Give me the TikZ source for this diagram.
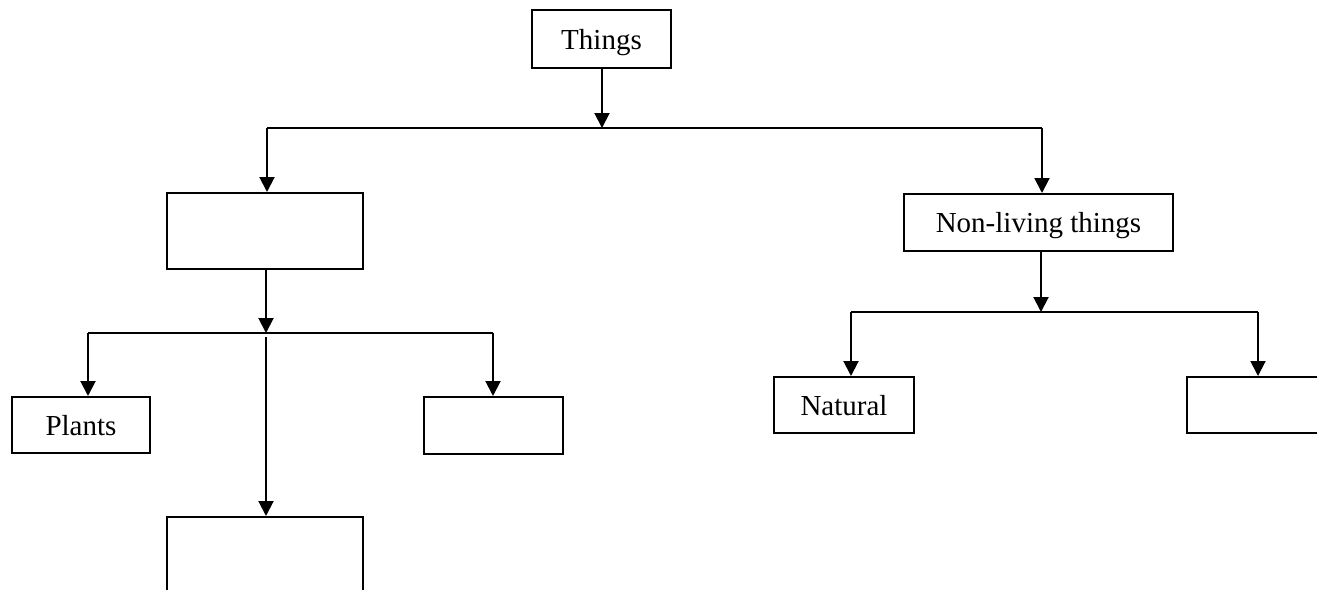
\documentclass[tikz,border=0pt]{standalone}
\usepackage{fontspec}
\setmainfont{Liberation Serif}
\usetikzlibrary{arrows.meta}
\begin{document}
\begin{tikzpicture}[x=1pt,y=-1pt,
  box/.style={draw,line width=2pt,inner sep=0pt,text height=20pt,text depth=0pt,font=\fontsize{29}{34}\selectfont},
  conn/.style={line width=2pt},
  arr/.style={line width=2pt,-{Triangle[width=15pt,length=15pt]}}]
\useasboundingbox (0,0) rectangle (1317,589);
\clip (0,0) rectangle (1317,589);
\fill[white] (0,0) rectangle (1317,589);
% nodes
\node[box,minimum width=139pt,minimum height=58pt] (things) at (601.5,39) {Things};
\node[box,minimum width=196pt,minimum height=76pt] (living) at (265,231) {};
\node[box,minimum width=138pt,minimum height=56pt] (plants) at (81,425) {Plants};
\node[box,minimum width=139pt,minimum height=57pt] (animals) at (493.5,425.5) {};
\node[box,minimum width=196pt,minimum height=120pt] (other) at (265,577) {};
\node[box,minimum width=269pt,minimum height=57pt] (nonliving) at (1038.5,222.5) {Non-living things};
\node[box,minimum width=140pt,minimum height=56pt] (natural) at (844,405) {Natural};
\node[box,minimum width=260pt,minimum height=56pt] (manmade) at (1317,405) {};
% junction coordinates
\coordinate (j1) at (602,128);
\coordinate (b1l) at (267,128);
\coordinate (b1r) at (1042,128);
\coordinate (j2) at (266,333);
\coordinate (b2l) at (88,333);
\coordinate (b2r) at (493,333);
\coordinate (j2s) at (266,337);
\coordinate (j3) at (1041,312);
\coordinate (b3l) at (851,312);
\coordinate (b3r) at (1258,312);
% connectors
\draw[arr] (things.south -| j1) -- (j1);
\draw[conn] (b1l) -- (b1r);
\draw[arr] (b1l) -- (living.north -| b1l);
\draw[arr] (b1r) -- (nonliving.north -| b1r);
\draw[arr] (living.south -| j2) -- (j2);
\draw[conn] (b2l) -- (b2r);
\draw[arr] (b2l) -- (plants.north -| b2l);
\draw[arr] (b2r) -- (animals.north -| b2r);
\draw[arr] (j2s) -- (other.north -| j2s);
\draw[arr] (nonliving.south -| j3) -- (j3);
\draw[conn] (b3l) -- (b3r);
\draw[arr] (b3l) -- (natural.north -| b3l);
\draw[arr] (b3r) -- (manmade.north -| b3r);
\end{tikzpicture}
\end{document}
